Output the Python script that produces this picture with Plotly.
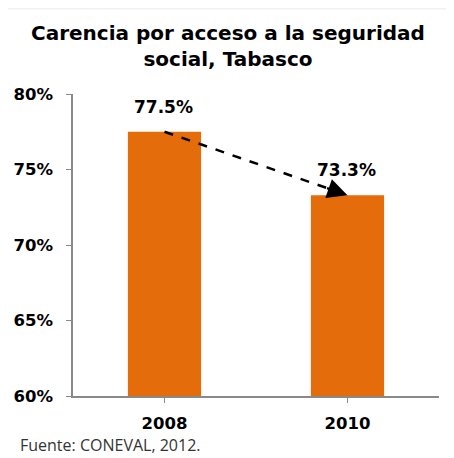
import plotly.graph_objects as go

categories = ["2008", "2010"]
values = [77.5, 73.3]
tick_vals = [60, 65, 70, 75, 80]
tick_text = ["60%", "65%", "70%", "75%", "80%"]
title_text = "Carencia por acceso a la seguridad<br>social, Tabasco"
source_text = "Fuente: CONEVAL, 2012."

W, H = 446, 450
ml, mr, mt, mb = 65, 15, 86, 62
pw, ph = W - ml - mr, H - mt - mb
BOLD = "DejaVu Sans, Liberation Sans, Arial"

fig = go.Figure()
fig.add_trace(go.Bar(
    x=list(range(len(categories))), y=values, width=0.4,
    marker=dict(color="#E46C0A", line=dict(width=0)),
    hoverinfo="skip",
))
# value labels
for i, v in enumerate(values):
    fig.add_annotation(x=i, y=v, xref="x", yref="y", text=f"<b>{v:.1f}%</b>",
                       showarrow=False, yanchor="middle", yshift=25, xshift=-1,
                       font=dict(family=BOLD, size=17, color="black"))
# dashed trend line between bar tops
frac = 0.92
fig.add_trace(go.Scatter(
    x=[0, frac], y=[values[0], values[0] + (values[1] - values[0]) * frac],
    mode="lines", line=dict(color="black", width=2.5, dash="dash"),
    hoverinfo="skip",
))
fig.add_annotation(
    x=1, y=values[1], xref="x", yref="y",
    ax=0.88, ay=values[0] + (values[1] - values[0]) * 0.88, axref="x", ayref="y",
    text="", showarrow=True, arrowhead=2, arrowsize=1.6, arrowwidth=2.5,
    arrowcolor="black", standoff=0,
)

fig.update_layout(
    width=W, height=H,
    margin=dict(l=ml, r=mr, t=mt, b=mb, autoexpand=False),
    paper_bgcolor="white", plot_bgcolor="white",
    showlegend=False, bargap=0.6,
    xaxis=dict(
        tickmode="array", tickvals=list(range(len(categories))),
        ticktext=["<b>" + c + "</b>" for c in categories],
        range=[-0.5, 1.5], tickson="boundaries", ticks="outside", ticklen=5,
        tickcolor="#898989", showline=True, linecolor="#898989", linewidth=1.5,
        showgrid=False, zeroline=False, ticklabelstandoff=6, automargin=False,
        tickfont=dict(family=BOLD, size=16.5, color="black"),
    ),
    yaxis=dict(
        range=[60, 80], tickvals=tick_vals,
        ticktext=["<b>" + t + "</b>" for t in tick_text],
        ticks="outside", ticklen=5, tickcolor="#898989",
        showline=True, linecolor="#898989", linewidth=1.5,
        showgrid=False, zeroline=False, ticklabelstandoff=10, automargin=False,
        tickfont=dict(family=BOLD, size=16.5, color="black"),
    ),
)

# title
fig.add_annotation(
    text="<b>" + title_text + "</b>", xref="paper", yref="paper",
    x=(219.5 - ml) / pw, xanchor="center",
    y=1 + (mt - 37.5) / ph, yanchor="middle", showarrow=False,
    font=dict(family=BOLD, size=20, color="black"),
)

# source note
fig.add_annotation(
    text=source_text, xref="paper", yref="paper",
    x=-(ml - 10) / pw, xanchor="left",
    y=-49 / ph, yanchor="middle",
    showarrow=False,
    font=dict(family="Open Sans, Liberation Sans", size=16, color="#333333"),
)

# faint shadow at the top edge
for i, op in enumerate([0.10, 0.05]):
    fig.add_shape(type="rect", xref="paper", yref="paper",
                  x0=-ml / pw, x1=1 + mr / pw,
                  y0=1 + (mt - (i + 1)) / ph, y1=1 + (mt - i) / ph,
                  fillcolor=f"rgba(120,120,120,{op})", line=dict(width=0), layer="below")

fig.write_html("out.html")
